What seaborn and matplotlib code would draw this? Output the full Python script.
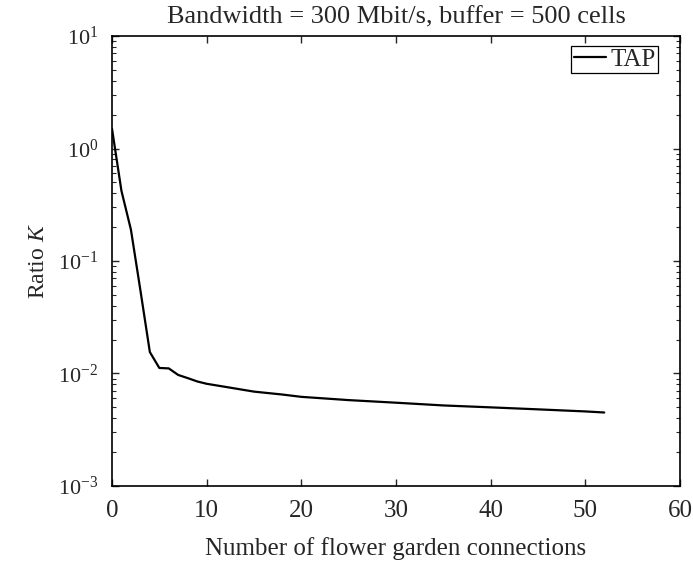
import matplotlib
matplotlib.use("Agg")
import matplotlib.pyplot as plt
import seaborn as sns
import pandas as pd
import numpy as np
from matplotlib.ticker import LogLocator, NullFormatter, FixedLocator

connections = [0, 1, 2, 3, 4, 5, 6, 7, 8, 9, 10, 12, 15, 18, 20, 25, 30, 35, 40, 45, 50, 52]
ratio_k = [1.5, 0.42, 0.19, 0.055, 0.0155, 0.0112, 0.0111, 0.0097, 0.0091, 0.0085, 0.0081,
           0.0076, 0.0069, 0.0065, 0.0062, 0.0058, 0.0055, 0.0052, 0.0050, 0.0048, 0.0046, 0.0045]
series_name = "TAP"
x_ticks = [0, 10, 20, 30, 40, 50, 60]

sns.set_style("ticks")
plt.rcParams['font.family'] = ['Liberation Serif', 'DejaVu Serif']
plt.rcParams['mathtext.fontset'] = 'custom'
plt.rcParams['mathtext.rm'] = 'Liberation Serif'
plt.rcParams['mathtext.it'] = 'Liberation Serif:italic'

df = pd.DataFrame({"x": connections, "K": ratio_k, "series": series_name})

fig = plt.figure(figsize=(6.93, 5.63), dpi=100)
ax = fig.add_axes([0.1616, 0.1368, 0.8196, 0.7992])
sns.lineplot(data=df, x="x", y="K", hue="series", palette=["black"], linewidth=1.6, ax=ax)
ax.set_yscale("log")
ax.set_xlim(0, 60)
ax.set_ylim(1e-3, 1e1)
ax.xaxis.set_major_locator(FixedLocator(x_ticks))
ax.yaxis.set_major_locator(LogLocator(base=10, numticks=10))
ax.yaxis.set_minor_locator(LogLocator(base=10, subs=np.arange(2, 10), numticks=10))
ax.yaxis.set_minor_formatter(NullFormatter())
ax.tick_params(which="both", direction="in", top=True, right=True)
ax.tick_params(which="major", length=5, width=1)
ax.tick_params(which="minor", length=3, width=0.8)
ax.tick_params(axis="x", labelsize=18, pad=10)
ax.tick_params(axis="y", labelsize=16, pad=10)
for s in ax.spines.values():
    s.set_linewidth(1.2)
    s.set_color("black")
ax.set_xlabel("Number of flower garden connections", fontsize=18, labelpad=11)
ax.set_ylabel("Ratio $K$", fontsize=17, labelpad=6)
ax.set_title("Bandwidth = 300 Mbit/s, buffer = 500 cells", fontsize=19, pad=9)
leg = ax.legend(loc="upper right", bbox_to_anchor=(0.9613, 0.978), fontsize=18,
                handlelength=1.3, handletextpad=0.15, borderpad=0.1,
                frameon=True, fancybox=False, borderaxespad=0)
leg.get_frame().set_edgecolor("black")
leg.get_frame().set_linewidth(0.9)
leg.get_frame().set_alpha(1)
fig.savefig("out.png", dpi=100)
